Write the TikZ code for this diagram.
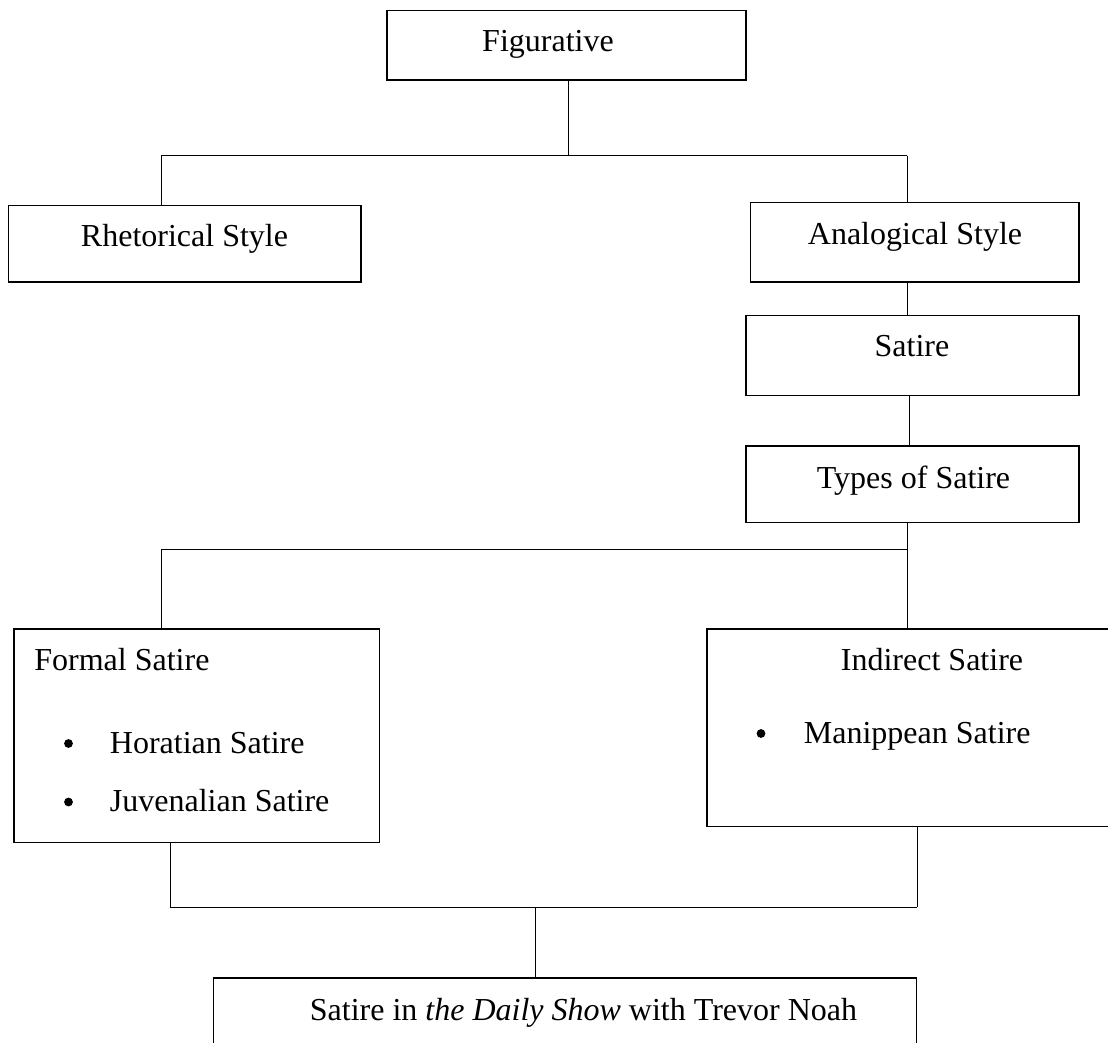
\documentclass[tikz,border=0pt]{standalone}
\usepackage{fontspec}
\setmainfont{Liberation Serif}
\begin{document}
\begin{tikzpicture}[x=0.5pt,y=-0.5pt,
  box/.style={draw,line width=0.75pt,inner sep=0pt,outer sep=0pt,anchor=north west},
  lbl/.style={inner sep=0pt,font=\fontsize{16}{18}\selectfont},
  dot/.style={circle,fill,inner sep=0pt,minimum size=4.4pt},
  conn/.style={line width=0.5pt}]
\useasboundingbox (0,0) rectangle (1108,1043);
\clip (0,0) rectangle (1108,1043);
% boxes
\node[box,minimum width=179.5pt,minimum height=34.65pt] (fig) at (387,10.7) {};
\node[box,minimum width=176.25pt,minimum height=38.15pt] (rhet) at (8.5,205.7) {};
\node[box,minimum width=164.25pt,minimum height=39.65pt] (ana) at (750.5,202.7) {};
\node[box,minimum width=166.5pt,minimum height=40pt] (sat) at (746,315.7) {};
\node[box,minimum width=166.5pt,minimum height=38.35pt] (types) at (746,446) {};
\node[box,minimum width=182.75pt,minimum height=106.85pt] (formal) at (14,629) {};
\node[box,minimum width=210pt,minimum height=98.85pt] (indirect) at (707,629) {};
\node[box,minimum width=351.6pt,minimum height=50pt] (daily) at (213.4,978) {};
% texts
\node[lbl,anchor=base] (tfig) at (548,52) {Figurative};
\node[lbl,anchor=base] (trhet) at (184.5,247) {Rhetorical Style};
\node[lbl,anchor=base] (tana) at (915,245) {Analogical Style};
\node[lbl,anchor=base] (tsat) at (912,357) {Satire};
\node[lbl,anchor=base] (ttypes) at (913.5,488) {Types of Satire};
\node[lbl,anchor=base west] (tformal) at (34,670) {Formal Satire};
\node[dot] (b1) at (68.5,743.5) {};
\node[lbl,anchor=base west] (thor) at (109.5,753) {Horatian Satire};
\node[dot] (b2) at (68.5,802) {};
\node[lbl,anchor=base west] (tjuv) at (109.5,811.7) {Juvenalian Satire};
\node[lbl,anchor=base] (tind) at (932,670) {Indirect Satire};
\node[dot] (b3) at (761,733.5) {};
\node[lbl,anchor=base west] (tman) at (803.5,743) {Manippean Satire};
\node[lbl,anchor=base west] (tdaily) at (309.5,1020) {Satire in \textit{the Daily Show} with Trevor Noah};
% junction coordinates
\coordinate (j1m) at (568,155.7);
\coordinate (j1l) at (161,155.7);
\coordinate (j1r) at (907,155.7);
\coordinate (j2m) at (907,549.3);
\coordinate (j2l) at (161,549.3);
\coordinate (j3l) at (170,907);
\coordinate (j3r) at (917,907);
\coordinate (j3m) at (535,907);
% connectors
\draw[conn] (j1m |- fig.south) -- (j1m);
\draw[conn] (j1l) -- (j1r);
\draw[conn] (j1l) -- (j1l |- rhet.north);
\draw[conn] (j1r) -- (j1r |- ana.north);
\draw[conn] (j1r |- ana.south) -- (j1r |- sat.north);
\draw[conn] ([xshift=1.25pt]j1r |- sat.south) -- ([xshift=1.25pt]j1r |- types.north);
\draw[conn] (j2m |- types.south) -- (j2m |- indirect.north);
\draw[conn] (j2l) -- (j2m);
\draw[conn] (j2l) -- (j2l |- formal.north);
\draw[conn] (j3l |- formal.south) -- (j3l);
\draw[conn] (j3r |- indirect.south) -- (j3r);
\draw[conn] (j3l) -- (j3r);
\draw[conn] (j3m) -- (j3m |- daily.north);
\end{tikzpicture}
\end{document}
